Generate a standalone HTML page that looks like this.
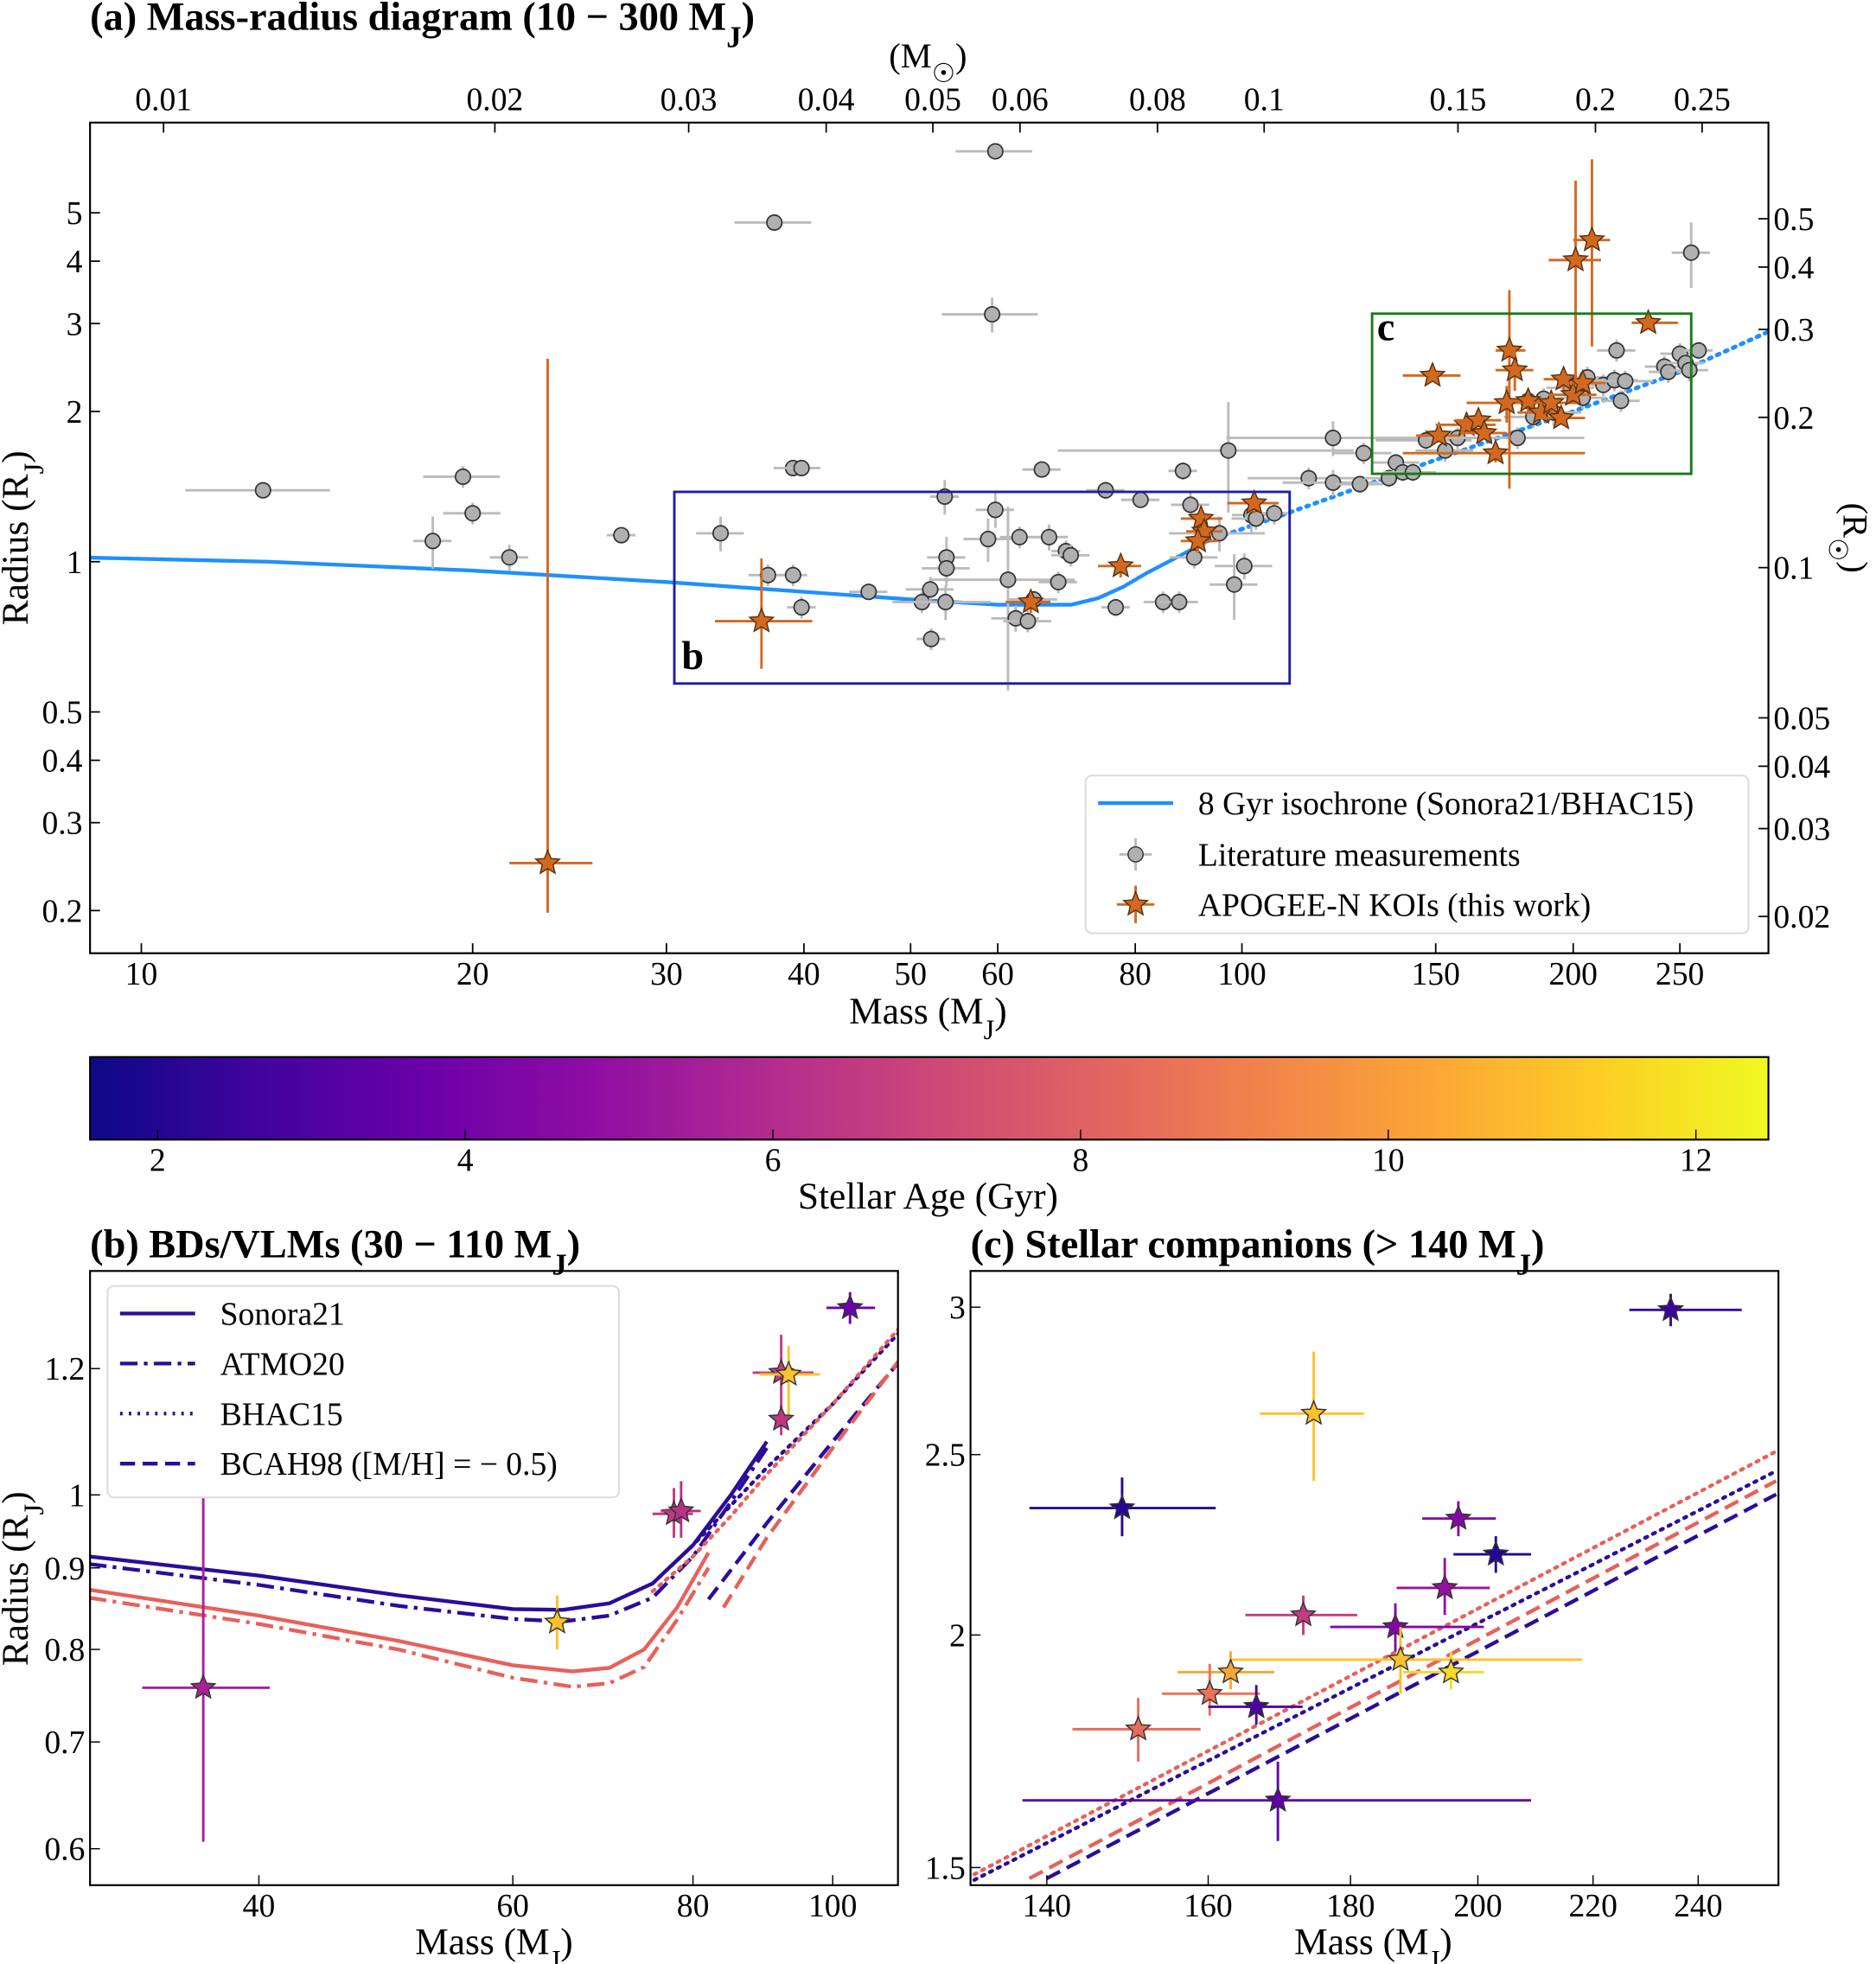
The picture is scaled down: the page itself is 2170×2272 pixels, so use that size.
<!DOCTYPE html>
<html><head><meta charset="utf-8"><style>
html,body{margin:0;padding:0;background:#fff;}
svg{display:block;font-family:"Liberation Serif","DejaVu Serif",serif;}
</style></head><body>
<svg id="fig" width="2170" height="2272" viewBox="0 0 1500 1570" preserveAspectRatio="none" xmlns="http://www.w3.org/2000/svg">
<defs>
<linearGradient id="plasma" x1="0" x2="1" y1="0" y2="0">
<stop offset="0" stop-color="#0d0887"/><stop offset="0.1" stop-color="#41049d"/><stop offset="0.2" stop-color="#6a00a8"/><stop offset="0.3" stop-color="#8f0da4"/><stop offset="0.4" stop-color="#b12a90"/><stop offset="0.5" stop-color="#cc4778"/><stop offset="0.6" stop-color="#e16462"/><stop offset="0.7" stop-color="#f2844b"/><stop offset="0.8" stop-color="#fca636"/><stop offset="0.9" stop-color="#fcce25"/><stop offset="1" stop-color="#f0f921"/>
</linearGradient>
</defs>
<rect x="0" y="0" width="1500" height="1570" fill="#fff"/>
</svg>
<script>
// ---------- DATA ----------
const isoMass = [8.8,13,20,30,40,50,60,70,74,78,82,88,93];
const isoRad  = [1.02,1.0,0.96,0.91,0.87,0.84,0.82,0.82,0.845,0.89,0.95,1.03,1.10];
const isoDotMass = [93,110,150,200,250,302];
const isoDotRad  = [1.10,1.25,1.6,2.0,2.4,2.9];

const litMass = [12.9,18.4,19.6,20.0,21.6,27.3,33.6,37.1,37.6,39.1,39.8,39.1,39.8,45.8,51.2,52.1,52.2,53.7,53.9,53.9,53.8,58.8,59.3,59.7,59.7,61.3,62.3,62.8,63.9,64.7,65.8,66.8,68.1,69.2,69.9,75.2,76.8,80.9,84.8,87.7,88.4,89.8,90.5,95.4,97.2,98.4,100.5,102,103,107,115,121,121,128,129,136,138,140,143,147,153,157,178,182,184,188,192,199,204,206,213,218,219,221,223,242,244,250,253,255,256,260];
const litRad  = [1.39,1.10,1.48,1.25,1.02,1.13,1.14,0.94,4.78,1.54,1.54,0.94,0.81,0.87,0.83,0.88,0.70,1.35,1.02,0.97,0.83,1.11,3.13,6.64,1.27,0.92,0.77,1.12,0.76,0.84,1.53,1.12,0.91,1.05,1.03,1.39,0.81,1.33,0.83,0.83,1.52,1.30,1.02,1.14,1.67,0.90,0.98,1.24,1.22,1.25,1.47,1.77,1.44,1.43,1.65,1.47,1.58,1.51,1.51,1.75,1.67,1.77,1.77,2.10,1.95,2.12,1.99,2.23,2.13,2.34,2.26,2.31,2.65,2.10,2.30,2.46,2.40,2.61,2.50,2.42,4.16,2.65];
const litMErr = [0.15,0.04,0.08,0.06,0.04,0.03,0.05,0.04,0.08,0.04,0.04,0.03,0.03,0.04,0.06,0.05,0.03,0.03,0.04,0.05,0.1,0.05,0.1,0.08,0.04,0.15,0.05,0.04,0.05,0.05,0.04,0.04,0.04,0.03,0.04,0.04,0.03,0.04,0.04,0.04,0.03,0.04,0.05,0.1,0.3,0.05,0.06,0.04,0.05,0.03,0.12,0.2,0.1,0.05,0.06,0.05,0.05,0.04,0.05,0.1,0.06,0.06,0.15,0.06,0.06,0.04,0.06,0.05,0.05,0.05,0.05,0.05,0.04,0.04,0.06,0.04,0.04,0.04,0.04,0.04,0.04,0.03];
const litRErr = [0.02,0.12,0.05,0.05,0.06,0.03,0.08,0.05,0.02,0.03,0.03,0.05,0.05,0.02,0.05,0.06,0.05,0.08,0.1,0.08,0.08,0.1,0.08,0.02,0.08,0.4,0.06,0.05,0.05,0.04,0.03,0.06,0.05,0.05,0.05,0.04,0.04,0.03,0.05,0.05,0.04,0.06,0.05,0.08,0.25,0.15,0.06,0.08,0.05,0.05,0.05,0.08,0.06,0.04,0.05,0.04,0.04,0.04,0.04,0.05,0.05,0.05,0.05,0.05,0.05,0.05,0.06,0.05,0.05,0.05,0.05,0.05,0.05,0.05,0.05,0.05,0.05,0.05,0.05,0.05,0.15,0.04];

const koiMass = [23.4,36.6,64.3,77.6,91.8,92.4,91.2,102.6,149,151,160,164,166,170,175,177,174,182,187,191,195,196,200,204,201,208,234];
const koiRad  = [0.249,0.76,0.83,0.98,1.22,1.15,1.10,1.31,2.36,1.79,1.88,1.92,1.81,1.65,2.65,2.42,2.08,2.10,1.99,2.08,1.94,2.32,2.16,2.28,4.02,4.41,3.01];
const koiMLo  = [21.6,33.2,61,74,88,89,88,97,140,144,150,156,158,140,170,170,160,173,178,180,185,188,190,194,190,200,226];
const koiMHi  = [25.7,40.7,67,81,96,96,95,108,158,158,170,172,174,205,181,184,188,191,196,202,205,204,210,214,212,216,249];
const koiRLo  = [0.198,0.61,0.79,0.93,1.15,1.08,1.04,1.25,2.30,1.74,1.83,1.86,1.76,1.58,1.40,2.20,1.90,2.00,1.94,2.00,1.88,2.20,2.09,2.21,2.30,2.70,2.92];
const koiRHi  = [2.55,1.015,0.87,1.03,1.29,1.22,1.16,1.37,2.42,1.84,1.94,1.98,1.87,1.72,3.5,2.65,2.25,2.20,2.04,2.16,2.01,2.44,2.24,2.36,5.8,6.4,3.09];

// panel b
const bMass = [36.6,64.4,77.6,78.5,92.1,93.2,92.1,102.8];
const bRad  = [0.757,0.832,0.973,0.977,1.193,1.19,1.115,1.31];
const bAge  = [5.6,11,6.5,6.2,6.6,11,6.4,3.8];
const bMLo  = [33.2,63.5,75,76,88,89,91.5,99];
const bMHi  = [40.7,65.3,80,81,97,98,92.7,107];
const bRLo  = [0.606,0.80,0.94,0.94,1.10,1.12,1.09,1.28];
const bRHi  = [1.015,0.865,1.01,1.02,1.26,1.24,1.14,1.34];
const curveMass = [30.5,40,50,60,65,70,75,80,85,90];
const sonYoung = [0.915,0.89,0.865,0.848,0.847,0.855,0.88,0.93,1.0,1.08];
const atmoYoung = [0.905,0.878,0.852,0.836,0.833,0.84,0.862,0.915,0.99,1.07];
const curveMassO = [30.5,40,50,60,66,70,74,78,82];
const sonOld = [0.872,0.84,0.81,0.782,0.775,0.779,0.80,0.85,0.92];
const atmoOld = [0.862,0.83,0.80,0.768,0.758,0.762,0.78,0.835,0.90];
const bhacMass = [75,80,85,90,100,111];
const bhacYoung = [0.88,0.93,0.985,1.04,1.14,1.262];
const bhacOld = [0.87,0.915,0.97,1.03,1.14,1.27];
const bcahMass = [82,90,100,111];
const bcahYoung = [0.86,0.96,1.08,1.21];
const bcahOldMass = [84,90,100,111];
const bcahOld = [0.85,0.94,1.07,1.212];

// panel c
const cMass = [234.6,174.6,149.0,196.8,203.0,194.6,173.1,186.8,187.6,195.6,163.0,160.2,166.5,151.0,169.5];
const cRad  = [2.99,2.63,2.34,2.31,2.21,2.12,2.05,2.02,1.94,1.91,1.91,1.86,1.83,1.78,1.63];
const cAge  = [2.5,11,2.1,4.5,2.0,5.0,6.6,4.4,11,11.6,10.2,8.6,3.0,8.4,3.5];
const cMLo  = [226.7,167,138,191,196,187,165,177,163,188,156,154,160,143,137.2];
const cMHi  = [248.8,182,161,203,209,202,181,201,218,201,169,167,173,159,209];
const cRLo  = [2.93,2.42,2.26,2.26,2.16,2.05,2.00,1.96,1.86,1.87,1.87,1.81,1.79,1.71,1.55];
const cRHi  = [3.05,2.84,2.43,2.36,2.26,2.20,2.10,2.08,2.02,1.96,1.96,1.93,1.88,1.85,1.71];
const cLineMass = [131,256];
const cRedDot = [1.48,2.51];
const cNavyDot = [1.47,2.45];
const cRedDashMass = [138,256];
const cRedDash = [1.48,2.42];
const cNavyDashMass = [140,256];
const cNavyDash = [1.48,2.38];

const aXTicks = [10,20,30,40,50,60,80,100,150,200,250];
const aYTicks = [0.2,0.3,0.4,0.5,1,2,3,4,5];
const aTopTicks = [0.01,0.02,0.03,0.04,0.05,0.06,0.08,0.1,0.15,0.2,0.25];
const aRightTicks = [0.02,0.03,0.04,0.05,0.1,0.2,0.3,0.4,0.5];
const cbTicks = [2,4,6,8,10,12];
const bXTicks = [40,60,80,100];
const bYTicks = [0.6,0.7,0.8,0.9,1,1.2];
const cXTicks = [140,160,180,200,220,240];
const cYTicks = [1.5,2,2.5,3];

// ---------- HELPERS ----------
const NS="http://www.w3.org/2000/svg";
const svg=document.getElementById('fig');
function el(tag,attrs,parent){const e=document.createElementNS(NS,tag);for(const k in attrs)e.setAttribute(k,attrs[k]);(parent||svg).appendChild(e);return e;}
const L=Math.log10;
const ax=m=>113+880*(L(m)-1), ay=r=>449-399*L(r);
const bx=m=>207+1153*L(m/40), by=r=>1195-1275*L(r);
const cx=m=>837+2225*L(m/140), cy=r=>1307-1488*L(r/2);
const cbx=a=>126+123*(a-2);
const stops=[[13,8,135],[65,4,157],[106,0,168],[143,13,164],[177,42,144],[204,71,120],[225,100,98],[242,132,75],[252,166,54],[252,206,37],[240,249,33]];
function plasma(a){let t=(a-1.56)/(12.44-1.56);t=Math.max(0,Math.min(1,t))*10;const i=Math.min(9,Math.floor(t)),f=t-i;const c=stops[i].map((v,k)=>Math.round(v+(stops[i+1][k]-v)*f));return `rgb(${c})`;}
function starPath(x,y,R){const r=R*0.45;let d='';for(let i=0;i<10;i++){const rr=i%2?r:R;const an=-Math.PI/2+i*Math.PI/5;d+=(i?'L':'M')+(x+rr*Math.cos(an)).toFixed(1)+' '+(y+rr*Math.sin(an)).toFixed(1);}return d+'Z';}
function text(x,y,s,size,anchor,parent,extra){const t=el('text',Object.assign({x:x,y:y,'font-size':size,'text-anchor':anchor||'middle',fill:'#000'},extra||{}),parent);t.innerHTML=s;return t;}
function poly(xs,ys,fx,fy){return xs.map((m,i)=>(i?'L':'M')+fx(m).toFixed(1)+' '+fy(ys[i]).toFixed(1)).join('');}
const MJ='M<tspan baseline-shift="sub" font-size="0.75em">J</tspan>';
const RJ='R<tspan baseline-shift="sub" font-size="0.75em">J</tspan>';
const SR=10;

// ---------- PANEL A ----------
const gA=el('g',{});  
el('defs',{},gA).innerHTML='<clipPath id="clipA"><rect x="72" y="98" width="1342" height="664"/></clipPath>';
const tA=text(72,24,'(a) Mass-radius diagram (10 − 300 '+MJ+')',32,'start',gA,{'font-weight':'bold'});
 
const pa=el('g',{'clip-path':'url(#clipA)'},gA);
const iso=el('path',{d:poly(isoMass,isoRad,ax,ay),fill:'none',stroke:'#1e90ff','stroke-width':3},pa);
 
const isoD=el('path',{d:poly(isoDotMass,isoDotRad,ax,ay),fill:'none',stroke:'#1e90ff','stroke-width':3.5,'stroke-dasharray':'2 5','stroke-linecap':'round'},pa);
 
litMass.forEach((m,i)=>{
  const g=el('g',{},pa);
   
  const x=ax(m),y=ay(litRad[i]),dm=litMErr[i],dr=litRErr[i];
  el('line',{x1:ax(m*(1-dm)),x2:ax(m*(1+dm)),y1:y,y2:y,stroke:'#bbb','stroke-width':2},g);
  el('line',{x1:x,x2:x,y1:ay(litRad[i]*(1-dr)),y2:ay(litRad[i]*(1+dr)),stroke:'#bbb','stroke-width':2},g);
  el('circle',{cx:x,cy:y,r:6,fill:'#b0b0b0',stroke:'#333','stroke-width':1.2},g);
});
koiMass.forEach((m,i)=>{
  const g=el('g',{},pa);
   
  const x=ax(m),y=ay(koiRad[i]);
  el('line',{x1:ax(koiMLo[i]),x2:ax(koiMHi[i]),y1:y,y2:y,stroke:'#d2691e','stroke-width':2},g);
  el('line',{x1:x,x2:x,y1:ay(koiRLo[i]),y2:ay(koiRHi[i]),stroke:'#d2691e','stroke-width':2},g);
  el('path',{d:starPath(x,y,SR),fill:'#d2691e',stroke:'#5a3010','stroke-width':1},g);
});
const boxB=el('rect',{x:ax(30.5),y:ay(1.38),width:ax(110.5)-ax(30.5),height:ay(0.57)-ay(1.38),fill:'none',stroke:'#1f1fa0','stroke-width':2},gA);
 
const lb=text(545,535,'b',32,'start',gA,{'font-weight':'bold'});  
const boxC=el('rect',{x:ax(131.3),y:ay(3.14),width:ax(256)-ax(131.3),height:ay(1.5)-ay(3.14),fill:'none',stroke:'#1a7a1a','stroke-width':2},gA);
 
const lc=text(1101,272,'c',32,'start',gA,{'font-weight':'bold'});  
el('rect',{x:72,y:98,width:1342,height:664,fill:'none',stroke:'#000','stroke-width':1.5},gA);
aXTicks.forEach(v=>{const x=ax(v);el('line',{x1:x,x2:x,y1:762,y2:754,stroke:'#000','stroke-width':1.2},gA);const t=text(x,787,String(v),26,'middle',gA);});
aYTicks.forEach(v=>{const y=ay(v);el('line',{x1:72,x2:80,y1:y,y2:y,stroke:'#000','stroke-width':1.2},gA);const t=text(66,y+9,String(v),26,'end',gA);});
aTopTicks.forEach(v=>{const x=ax(v*1047.6);el('line',{x1:x,x2:x,y1:98,y2:106,stroke:'#000','stroke-width':1.2},gA);const t=text(x,88,String(v),26,'middle',gA);});
aRightTicks.forEach(v=>{const y=ay(v*9.73);el('line',{x1:1406,x2:1414,y1:y,y2:y,stroke:'#000','stroke-width':1.2},gA);const t=text(1418,y+9,String(v),26,'start',gA);});
let t=text(742,818,'Mass ('+MJ+')',30,'middle',gA);  
t=text(742,54,'(M<tspan baseline-shift="sub" font-size="0.75em">☉</tspan>)',28,'middle',gA);  
t=text(0,0,'Radius ('+RJ+')',30,'middle',gA,{transform:'translate(22,430) rotate(-90)'});  
t=text(0,0,'(R<tspan baseline-shift="sub" font-size="0.75em">☉</tspan>)',28,'middle',gA,{transform:'translate(1474,430) rotate(90)'});  
const lgA=el('g',{},gA);  
el('rect',{x:868,y:620,width:530,height:126,rx:5,fill:'#fff',stroke:'#ddd','stroke-width':1.5},lgA);
el('line',{x1:878,x2:938,y1:642,y2:642,stroke:'#1e90ff','stroke-width':3},lgA);
t=text(958,651,'8 Gyr isochrone (Sonora21/BHAC15)',26,'start',lgA);  
el('line',{x1:908,x2:908,y1:670,y2:696,stroke:'#bbb','stroke-width':2},lgA);el('line',{x1:895,x2:921,y1:683,y2:683,stroke:'#bbb','stroke-width':2},lgA);
el('circle',{cx:908,cy:683,r:6,fill:'#b0b0b0',stroke:'#333'},lgA);
t=text(958,692,'Literature measurements',26,'start',lgA);  
el('line',{x1:908,x2:908,y1:708,y2:738,stroke:'#d2691e','stroke-width':2},lgA);el('line',{x1:893,x2:923,y1:723,y2:723,stroke:'#d2691e','stroke-width':2},lgA);
el('path',{d:starPath(908,723,SR),fill:'#d2691e',stroke:'#5a3010'},lgA);
t=text(958,732,'APOGEE-N KOIs (this work)',26,'start',lgA);  

// ---------- COLORBAR ----------
const gCb=el('g',{});  
el('rect',{x:72,y:845,width:1342,height:66,fill:'url(#plasma)',stroke:'#000','stroke-width':1.5},gCb);
cbTicks.forEach(v=>{const x=cbx(v);el('line',{x1:x,x2:x,y1:911,y2:903,stroke:'#000'},gCb);const tt=text(x,936,String(v),26,'middle',gCb);});
t=text(742,966,'Stellar Age (Gyr)',30,'middle',gCb);  

// ---------- PANEL B ----------
const gB=el('g',{});  
el('defs',{},gB).innerHTML='<clipPath id="clipB"><rect x="72" y="1016" width="646" height="491"/></clipPath>';
t=text(72,1005,'(b) BDs/VLMs (30 − 110 '+MJ+')',32,'start',gB,{'font-weight':'bold'});  
const pb=el('g',{'clip-path':'url(#clipB)'},gB);
const navy='#2a0d9a', red='#e8605a';
function curve(par,xs,ys,fx,fy,col,dash,name){const p=el('path',{d:poly(xs,ys,fx,fy),fill:'none',stroke:col,'stroke-width':3,'stroke-dasharray':dash||'none','stroke-linecap':dash==='2 5'?'round':'butt'},par);}
curve(pb,curveMass,sonYoung,bx,by,navy,'','sonora21-young');
curve(pb,curveMass,atmoYoung,bx,by,navy,'14 5 3 5','atmo20-young');
curve(pb,curveMassO,sonOld,bx,by,red,'','sonora21-old');
curve(pb,curveMassO,atmoOld,bx,by,red,'14 5 3 5','atmo20-old');
curve(pb,bhacMass,bhacYoung,bx,by,navy,'2 5','bhac15-young');
curve(pb,bhacMass,bhacOld,bx,by,red,'2 5','bhac15-old');
curve(pb,bcahMass,bcahYoung,bx,by,navy,'12 6','bcah98-young');
curve(pb,bcahOldMass,bcahOld,bx,by,red,'12 6','bcah98-old');
bMass.forEach((m,i)=>{
  const g=el('g',{},pb);  
  const x=bx(m),y=by(bRad[i]),c=plasma(bAge[i]);
  el('line',{x1:bx(bMLo[i]),x2:bx(bMHi[i]),y1:y,y2:y,stroke:c,'stroke-width':2},g);
  el('line',{x1:x,x2:x,y1:by(bRLo[i]),y2:by(bRHi[i]),stroke:c,'stroke-width':2},g);
  el('path',{d:starPath(x,y,SR),fill:c,stroke:'#333','stroke-width':1},g);
});
el('rect',{x:72,y:1016,width:646,height:491,fill:'none',stroke:'#000','stroke-width':1.5},gB);
bXTicks.forEach(v=>{const x=bx(v);el('line',{x1:x,x2:x,y1:1507,y2:1499,stroke:'#000'},gB);const tt=text(x,1532,String(v),26,'middle',gB);});
bYTicks.forEach(v=>{const y=by(v);el('line',{x1:72,x2:80,y1:y,y2:y,stroke:'#000'},gB);const tt=text(68,y+9,String(v),26,'end',gB);});
t=text(395,1562,'Mass ('+MJ+')',30,'middle',gB);  
t=text(0,0,'Radius ('+RJ+')',30,'middle',gB,{transform:'translate(22,1262) rotate(-90)'});  
const lgB=el('g',{},gB);  
el('rect',{x:86,y:1028,width:409,height:169,rx:5,fill:'#fff',stroke:'#ddd','stroke-width':1.5},lgB);
[['Sonora21',''],['ATMO20','14 5 3 5'],['BHAC15','2 5'],['BCAH98 ([M/H] = − 0.5)','12 6']].forEach((e,i)=>{
  const y=1050+i*40;
  el('line',{x1:96,x2:156,y1:y,y2:y,stroke:navy,'stroke-width':3,'stroke-dasharray':e[1]||'none'},lgB);
  const tt=text(176,y+9,e[0],26,'start',lgB);  
});

// ---------- PANEL C ----------
const gC=el('g',{});  
el('defs',{},gC).innerHTML='<clipPath id="clipC"><rect x="776" y="1016" width="646" height="491"/></clipPath>';
t=text(776,1005,'(c) Stellar companions (&gt; 140 '+MJ+')',32,'start',gC,{'font-weight':'bold'});  
const pc=el('g',{'clip-path':'url(#clipC)'},gC);
curve(pc,cLineMass,cRedDot,cx,cy,red,'2 5','bhac15-old');
curve(pc,cLineMass,cNavyDot,cx,cy,navy,'2 5','bhac15-young');
curve(pc,cRedDashMass,cRedDash,cx,cy,red,'12 6','bcah98-old');
curve(pc,cNavyDashMass,cNavyDash,cx,cy,navy,'12 6','bcah98-young');
cMass.forEach((m,i)=>{
  const g=el('g',{},pc);  
  const x=cx(m),y=cy(cRad[i]),c=plasma(cAge[i]);
  el('line',{x1:cx(cMLo[i]),x2:cx(cMHi[i]),y1:y,y2:y,stroke:c,'stroke-width':2},g);
  el('line',{x1:x,x2:x,y1:cy(cRLo[i]),y2:cy(cRHi[i]),stroke:c,'stroke-width':2},g);
  el('path',{d:starPath(x,y,SR),fill:c,stroke:'#333','stroke-width':1},g);
});
el('rect',{x:776,y:1016,width:646,height:491,fill:'none',stroke:'#000','stroke-width':1.5},gC);
cXTicks.forEach(v=>{const x=cx(v);el('line',{x1:x,x2:x,y1:1507,y2:1499,stroke:'#000'},gC);const tt=text(x,1532,String(v),26,'middle',gC);});
cYTicks.forEach(v=>{const y=cy(v);el('line',{x1:776,x2:784,y1:y,y2:y,stroke:'#000'},gC);const tt=text(772,y+9,String(v),26,'end',gC);});
t=text(1098,1562,'Mass ('+MJ+')',30,'middle',gC);  
</script>
</body></html>
